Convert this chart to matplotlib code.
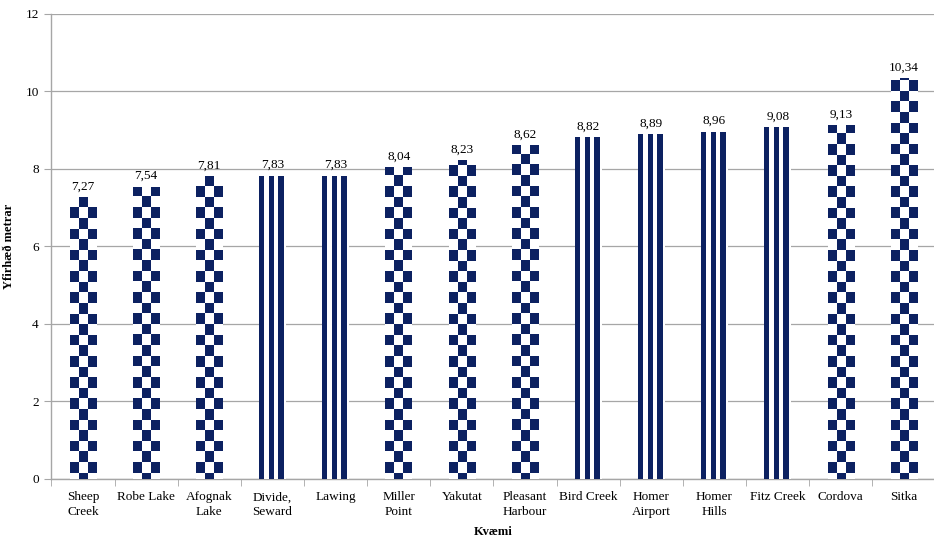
import numpy as np
import matplotlib
matplotlib.use("Agg")
from matplotlib import pyplot as plt

kvaemi = ["Sheep\nCreek", "Robe Lake", "Afognak\nLake", "Divide,\nSeward", "Lawing",
          "Miller\nPoint", "Yakutat", "Pleasant\nHarbour", "Bird Creek", "Homer\nAirport",
          "Homer\nHills", "Fitz Creek", "Cordova", "Sitka"]
haed = [7.27, 7.54, 7.81, 7.83, 7.83, 8.04, 8.23, 8.62, 8.82, 8.89, 8.96, 9.08, 9.13, 10.34]
# mynstur: c = köflótt, s = röndótt
mynstur = ["c", "c", "c", "s", "s", "c", "c", "c", "s", "s", "s", "s", "c", "c"]

NAVY = "#0c2161"
GRID = "#a6a6a6"

plt.rcParams['font.family'] = ['Liberation Serif', 'DejaVu Serif']

fig = plt.figure(figsize=(9.34, 5.38), dpi=100)
ax = fig.add_axes([0.0550, 0.1097, 0.9467, 0.8643])

x = np.arange(len(kvaemi))
width = 0.42
bars = ax.bar(x, haed, width=width, color="white", edgecolor="none", zorder=2)

cmap = matplotlib.colors.ListedColormap(["white", NAVY])
sq_h = 0.2735      # hæð reits í köflóttu mynstri
phase = 0.163      # mynstrið er fest við sama grunn í öllum súlum
stripes = np.array([1] * 5 + [0] * 4 + [1] * 5 + [0] * 4 + [1] * 5 + [0] * 2, dtype=float)
for bar, kind in zip(bars, mynstur):
    x0 = bar.get_x()
    h = bar.get_height()
    if kind == "c":
        k = np.arange(-1, int((h - phase) / sq_h) + 1)
        rows = k[::-1]  # efsta röð fyrst
        img = ((np.add.outer(rows, np.arange(3)) % 2) == 0).astype(float)
        top = phase + (rows[0] + 1) * sq_h
        bottom = phase + rows[-1] * sq_h
        im = ax.imshow(img, cmap=cmap, extent=(x0, x0 + width, bottom, top),
                       aspect="auto", interpolation="nearest", zorder=3, vmin=0, vmax=1)
    else:
        im = ax.imshow(stripes[None, :], cmap=cmap, extent=(x0, x0 + width, 0, h),
                       aspect="auto", interpolation="nearest", zorder=3, vmin=0, vmax=1)
    im.set_clip_path(bar)
    ax.text(bar.get_x() + width / 2, h + 0.12, f"{h:.2f}".replace(".", ","),
            ha="center", va="bottom", fontsize=9.5, zorder=4)

ax.set_xlim(-0.5, len(kvaemi) - 0.5)
ax.set_ylim(0, 12)
ax.set_yticks(np.arange(0, 13, 2))
ax.set_xticks(x)
ax.set_xticklabels(kvaemi, fontsize=9.5, linespacing=1.25)
ax.set_xticks(np.arange(-0.5, len(kvaemi), 1), minor=True)
ax.tick_params(axis="x", which="major", length=0, pad=9)
ax.tick_params(axis="x", which="minor", length=5, color=GRID, direction="out")
ax.tick_params(axis="y", length=5, color=GRID, labelsize=9.5, pad=4)
ax.yaxis.grid(True, color=GRID, linewidth=0.9, zorder=0)
ax.set_axisbelow(True)
for s in ["top", "right"]:
    ax.spines[s].set_visible(False)
for s in ["left", "bottom"]:
    ax.spines[s].set_color(GRID)
    ax.spines[s].set_linewidth(1.0)

ax.set_ylabel("Yfirhæð metrar", fontsize=9, fontweight="bold")
ax.yaxis.set_label_coords(-0.041, 0.5)
ax.set_xlabel("Kvæmi", fontsize=9, fontweight="bold", labelpad=6)

fig.savefig("out.png", dpi=100)
